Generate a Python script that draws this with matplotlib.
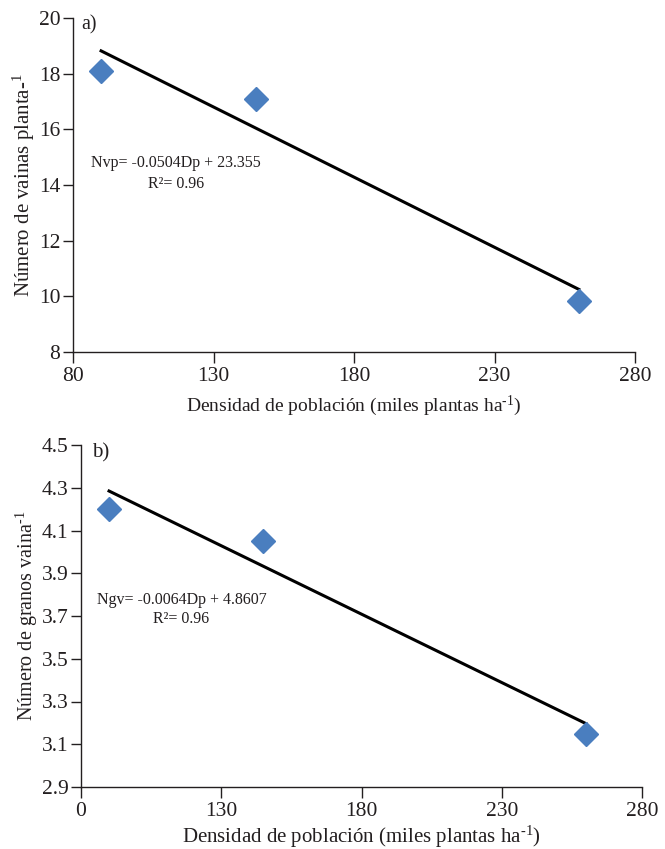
import numpy as np
import matplotlib
matplotlib.use('Agg')
import matplotlib.pyplot as plt

plt.rcParams['font.family'] = ['Liberation Serif', 'DejaVu Serif']
plt.rcParams['mathtext.fontset'] = 'custom'
plt.rcParams['mathtext.rm'] = 'Liberation Serif'
plt.rcParams['mathtext.it'] = 'Liberation Serif:italic'

# Data
densidad      = [90, 145, 260]           # miles plantas ha-1
vainas        = [18.1, 17.1, 9.82]       # panel a)
granos        = [4.2, 4.05, 3.15]        # panel b)
fit_range     = [90, 260]
coef_a        = (-0.0504, 23.355)
coef_b        = (-0.0064, 4.8607)

xticks        = [80, 130, 180, 230, 280]
xlabels_a     = ['80', '130', '180', '230', '280']
xlabels_b     = ['0', '130', '180', '230', '280']
yticks_a      = [8, 10, 12, 14, 16, 18, 20]
yticks_b      = [2.9, 3.1, 3.3, 3.5, 3.7, 3.9, 4.1, 4.3, 4.5]

blue  = '#4a7ebf'
ink   = '#231f20'

fig = plt.figure(figsize=(6.65, 8.49), dpi=100)
W, H = 665, 849
ax1 = fig.add_axes([73/W, 1-352/H, (635-73)/W, (352-18)/H])
ax2 = fig.add_axes([81/W, 1-787/H, (642-81)/W, (787-445)/H])

def style(ax, ylim, yticks, ylabels, xlabels, ylabel, xsize, xpad, ysize):
    ax.set_xlim(80, 280)
    ax.set_ylim(*ylim)
    ax.set_xticks(xticks)
    ax.set_xticklabels(xlabels)
    ax.set_yticks(yticks)
    ax.set_yticklabels(ylabels)
    for s in ['top', 'right']:
        ax.spines[s].set_visible(False)
    for s in ['left', 'bottom']:
        ax.spines[s].set_color(ink)
        ax.spines[s].set_linewidth(1.0)
    ax.tick_params(direction='out', width=1.0, colors=ink, labelsize=15.5)
    ax.tick_params(axis='x', length=8, pad=3)
    ax.tick_params(axis='y', length=7.5, pad=1.5)
    ax.set_xlabel('Densidad de población (miles plantas ha$^{\\text{-1}}$)',
                  fontsize=xsize, color=ink, labelpad=xpad)
    ax.set_ylabel(ylabel, fontsize=ysize, color=ink, labelpad=1)

# panel a)
xf = np.array(fit_range)
ax1.plot(xf, coef_a[0]*xf + coef_a[1], color='black', lw=2.2, zorder=2)
ax1.plot(densidad, vainas, 'D', color=blue, markersize=12.5, zorder=3)
style(ax1, (8, 20), yticks_a, [str(v) for v in yticks_a], xlabels_a,
      'Número de vainas planta-$^{\\text{1}}$', 14, 5, 15)
ax1.text(83, 19.75, 'a)', fontsize=14.5, color=ink, va='center')
ax1.text(86.4, 14.78, 'Nvp= -0.0504Dp + 23.355', fontsize=11.5, color=ink, va='center')
ax1.text(106.7, 14.05, 'R²= 0.96', fontsize=11.5, color=ink, va='center')

# panel b)
ax2.plot(xf, coef_b[0]*xf + coef_b[1], color='black', lw=2.2, zorder=2)
ax2.plot(densidad, granos, 'D', color=blue, markersize=12.5, zorder=3)
style(ax2, (2.9, 4.5), yticks_b, [f'{v:.1f}' for v in yticks_b], xlabels_b,
      'Número de granos vaina$^{\\text{-1}}$', 15, 2, 14.5)
ax2.text(83.9, 4.461, 'b)', fontsize=15, color=ink, va='center')
ax2.text(85.7, 3.777, 'Ngv= -0.0064Dp + 4.8607', fontsize=11.5, color=ink, va='center')
ax2.text(105.8, 3.688, 'R²= 0.96', fontsize=11.5, color=ink, va='center')

fig.savefig('out.png', dpi=100)
